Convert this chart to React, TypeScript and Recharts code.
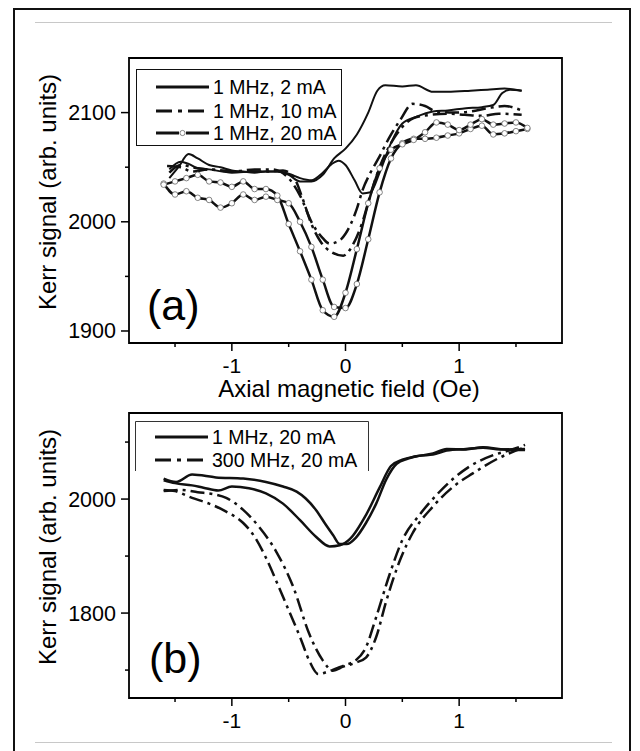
import React from 'react';
import { LineChart, Line, XAxis, YAxis, ReferenceArea, Legend } from 'recharts';

type Pt = [number, number];

// ---- panel (a): Kerr signal vs axial field, 1 MHz drive ----
const a2mAHat: Pt[] = [
  [-1.55, 2040], [-1.47, 2050], [-1.38, 2062], [-1.3, 2058], [-1.2, 2052], [-1.1, 2050],
  [-1.0, 2047], [-0.9, 2046], [-0.8, 2045], [-0.7, 2046], [-0.6, 2046], [-0.5, 2043],
  [-0.4, 2037], [-0.3, 2037], [-0.2, 2043], [-0.1, 2058], [0.0, 2067], [0.1, 2080],
  [0.2, 2100], [0.28, 2120], [0.35, 2125], [0.5, 2124], [0.62, 2125], [0.77, 2119],
  [0.9, 2119], [1.1, 2120], [1.25, 2121], [1.4, 2122], [1.55, 2120],
];
const a2mABump: Pt[] = [
  [-1.55, 2048], [-1.45, 2055], [-1.38, 2053], [-1.3, 2049], [-1.2, 2048], [-1.0, 2045],
  [-0.8, 2046], [-0.6, 2046], [-0.5, 2044], [-0.4, 2040], [-0.3, 2038], [-0.2, 2045],
  [-0.12, 2053], [-0.06, 2056], [0.0, 2052], [0.08, 2038], [0.15, 2026], [0.22, 2027],
  [0.3, 2045], [0.4, 2072], [0.5, 2090], [0.62, 2096], [0.77, 2101], [0.9, 2102],
  [1.06, 2104], [1.2, 2105], [1.3, 2107], [1.38, 2118], [1.45, 2121], [1.55, 2120],
];
const a10mAUpper: Pt[] = [
  [-1.57, 2051], [-1.45, 2050], [-1.35, 2046], [-1.2, 2048], [-1.0, 2046], [-0.8, 2048],
  [-0.65, 2048], [-0.52, 2042], [-0.4, 2024], [-0.29, 1998], [-0.2, 1985], [-0.14, 1980],
  [-0.05, 1983], [0.0, 1989], [0.1, 2012], [0.15, 2029], [0.22, 2045], [0.29, 2058],
  [0.39, 2078], [0.48, 2093], [0.59, 2108], [0.7, 2106], [0.8, 2101], [0.95, 2100],
  [1.1, 2101], [1.25, 2104], [1.4, 2106], [1.55, 2102],
];
const a10mALower: Pt[] = [
  [-1.55, 2045], [-1.45, 2052], [-1.3, 2049], [-1.1, 2047], [-0.9, 2046], [-0.7, 2046],
  [-0.55, 2047], [-0.45, 2040], [-0.38, 2022], [-0.3, 1998], [-0.22, 1982], [-0.12, 1972],
  [-0.02, 1969], [0.07, 1980], [0.15, 2000], [0.22, 2025], [0.3, 2050], [0.4, 2072],
  [0.5, 2087], [0.6, 2095], [0.75, 2098], [0.9, 2099], [1.05, 2098], [1.2, 2097],
  [1.35, 2099], [1.55, 2098],
];
const a20mALow: Pt[] = [
  [-1.6, 2035], [-1.5, 2025], [-1.4, 2028], [-1.3, 2022], [-1.2, 2020], [-1.1, 2013],
  [-1.0, 2017], [-0.9, 2025], [-0.8, 2020], [-0.7, 2023], [-0.6, 2020], [-0.5, 2017],
  [-0.4, 2000], [-0.3, 1977], [-0.2, 1947], [-0.1, 1922], [0.0, 1921], [0.1, 1943],
  [0.2, 1984], [0.3, 2027], [0.4, 2058], [0.5, 2072], [0.6, 2076], [0.7, 2076],
  [0.8, 2077], [0.9, 2079], [1.0, 2081], [1.1, 2085], [1.2, 2088], [1.3, 2080],
  [1.4, 2081], [1.5, 2083], [1.6, 2085],
];
const a20mAHigh: Pt[] = [
  [-1.6, 2034], [-1.5, 2037], [-1.4, 2040], [-1.3, 2043], [-1.2, 2037], [-1.1, 2036],
  [-1.0, 2032], [-0.9, 2037], [-0.8, 2030], [-0.7, 2030], [-0.6, 2024], [-0.5, 1998],
  [-0.4, 1973], [-0.3, 1947], [-0.2, 1919], [-0.1, 1913], [0.0, 1935], [0.1, 1975],
  [0.2, 2017], [0.3, 2049], [0.4, 2066], [0.5, 2071], [0.6, 2075], [0.7, 2082],
  [0.8, 2091], [0.9, 2089], [1.0, 2084], [1.1, 2089], [1.2, 2094], [1.3, 2089],
  [1.4, 2090], [1.5, 2091], [1.6, 2086],
];

// ---- panel (b): 1 MHz vs 300 MHz at 20 mA ----
const b1MHzLow: Pt[] = [
  [-1.6, 2033], [-1.5, 2028], [-1.35, 2024], [-1.25, 2020], [-1.12, 2015], [-1.0, 2022],
  [-0.85, 2019], [-0.7, 2010], [-0.55, 1992], [-0.4, 1963], [-0.26, 1934], [-0.14, 1917],
  [-0.05, 1919], [0.04, 1930], [0.18, 1972], [0.3, 2020], [0.4, 2058], [0.5, 2069],
  [0.62, 2075], [0.77, 2080], [0.89, 2088], [1.06, 2087], [1.21, 2091], [1.4, 2087],
  [1.58, 2086],
];
const b1MHzHigh: Pt[] = [
  [-1.6, 2036], [-1.49, 2030], [-1.35, 2043], [-1.14, 2038], [-0.9, 2036], [-0.7, 2030],
  [-0.55, 2022], [-0.43, 2013], [-0.35, 2001], [-0.26, 1981], [-0.17, 1954], [-0.11, 1937],
  [-0.05, 1921], [0.01, 1921], [0.09, 1932], [0.18, 1958], [0.27, 1992], [0.36, 2035],
  [0.45, 2062], [0.55, 2071], [0.65, 2076], [0.77, 2078], [0.89, 2085], [1.06, 2088],
  [1.21, 2090], [1.36, 2087], [1.58, 2088],
];
const b300MHzLeft: Pt[] = [
  [-1.6, 2016], [-1.5, 2014], [-1.35, 2002], [-1.2, 1992], [-1.05, 1978], [-0.9, 1958],
  [-0.8, 1934], [-0.7, 1897], [-0.6, 1852], [-0.5, 1805], [-0.4, 1758], [-0.32, 1717],
  [-0.24, 1693], [-0.16, 1697], [-0.08, 1703], [0.0, 1709], [0.09, 1717], [0.18, 1740],
  [0.27, 1793], [0.39, 1869], [0.5, 1928], [0.65, 1972], [0.8, 2007], [0.95, 2036],
  [1.09, 2057], [1.3, 2077], [1.45, 2086], [1.58, 2095],
];
const b300MHzRight: Pt[] = [
  [-1.6, 2014], [-1.45, 2016], [-1.3, 2012], [-1.15, 2008], [-1.05, 2002], [-0.9, 1981],
  [-0.76, 1951], [-0.61, 1908], [-0.46, 1846], [-0.32, 1764], [-0.2, 1717], [-0.11, 1699],
  [-0.02, 1706], [0.09, 1713], [0.18, 1722], [0.27, 1758], [0.36, 1822], [0.48, 1893],
  [0.59, 1940], [0.77, 1987], [0.95, 2022], [1.12, 2045], [1.35, 2072], [1.58, 2091],
];

// axes
const fieldDomain: [number, number] = [-1.905, 1.905];
const fieldTicks = [-1.5, -1, -0.5, 0, 0.5, 1, 1.5];
const fieldLabels = [-1, 0, 1];
const kerrDomainA: [number, number] = [1889, 2150];
const kerrTicksA = [1900, 1950, 2000, 2050, 2100];
const kerrLabelsA = [1900, 2000, 2100];
const kerrDomainB: [number, number] = [1651, 2151];
const kerrTicksB = [1700, 1800, 1900, 2000, 2100];
const kerrLabelsB = [1800, 2000];

const legendA = ['1 MHz, 2 mA', '1 MHz, 10 mA', '1 MHz, 20 mA'];
const legendB = ['1 MHz, 20 mA', '300 MHz, 20 mA'];

const FONT = '"Liberation Sans", Arial, Helvetica, sans-serif';
const INK = '#111';
const DASHDOT = '14 5 3 5';
const CIRCLE = { r: 2.8, fill: '#fff', stroke: '#666', strokeWidth: 0.8 };

const rows = (pts: Pt[]) => pts.map(([x, y]) => ({ x, y }));

const XTick = (props: any) => {
  const { x, y, payload } = props;
  const major = fieldLabels.includes(payload.value);
  return (
    <g>
      <line x1={x} x2={x} y1={y} y2={y + (major ? 8 : 4)} stroke="#000" strokeWidth={1.5} />
      {major && (
        <text x={x} y={y + 30} textAnchor="middle" fontSize={21} fontFamily={FONT} fill="#000">
          {payload.value}
        </text>
      )}
    </g>
  );
};

const yTick = (labels: number[]) => (props: any) => {
  const { x, y, payload } = props;
  const major = labels.includes(payload.value);
  return (
    <g>
      <line x1={x - (major ? 8 : 4)} x2={x} y1={y} y2={y} stroke="#000" strokeWidth={1.5} />
      {major && (
        <text x={x - 13} y={y + 7.5} textAnchor="end" fontSize={21.5} fontFamily={FONT} fill="#000">
          {payload.value}
        </text>
      )}
    </g>
  );
};

const kerrTitle = (cy: number) => () => (
  <text
    x={56}
    y={cy}
    transform={`rotate(-90 56 ${cy})`}
    textAnchor="middle"
    fontSize={24}
    fontFamily={FONT}
    fill="#000"
  >
    Kerr signal (arb. units)
  </text>
);

const panelTag = (tag: string, x: number, y: number) => () => (
  <text x={x} y={y} fontSize={43} fontFamily={FONT} fill="#000">
    {tag}
  </text>
);

type Sample = 'solid' | 'dashdot' | 'circle';

function LegendBox({ labels, kinds, width, height, rowY, openBottom }: {
  labels: string[]; kinds: Sample[]; width: number; height: number; rowY: number[]; openBottom?: boolean;
}) {
  return (
    <svg width={width} height={height} style={{ display: 'block', overflow: 'visible' }}>
      {openBottom ? (
        <path d={`M0.5 ${height} V0.5 H${width - 0.5} V${height}`} fill="none" stroke="#333" strokeWidth={1} />
      ) : (
        <rect x={0.5} y={0.5} width={width - 1} height={height - 1} fill="none" stroke="#111" strokeWidth={1} />
      )}
      {labels.map((label, i) => {
        const y = rowY[i];
        const kind = kinds[i];
        return (
          <g key={label}>
            {kind === 'circle' ? (
              <g>
                <line x1={20} x2={43} y1={y} y2={y} stroke={INK} strokeWidth={3} />
                <line x1={50} x2={73} y1={y} y2={y} stroke={INK} strokeWidth={3} />
                <circle cx={46.5} cy={y} r={2.6} fill="#fff" stroke="#666" strokeWidth={0.8} />
              </g>
            ) : (
              <line x1={20} x2={73} y1={y} y2={y} stroke={INK} strokeWidth={3}
                strokeDasharray={kind === 'dashdot' ? '16 6 4 6' : undefined} />
            )}
            <text x={77} y={y + 7} fontSize={19.5} fontFamily={FONT} fill="#000">{label}</text>
          </g>
        );
      })}
    </svg>
  );
}

const noLegendShift = { layout: 'horizontal' as const, verticalAlign: 'middle' as const, align: 'center' as const };

export default function App() {
  return (
    <div style={{ position: 'absolute', left: 0, top: 0, width: 640, height: 751, background: '#fff', overflow: 'hidden', fontFamily: FONT }}>
      <div style={{ position: 'absolute', left: 13, top: 8, width: 618, height: 800, border: '2px solid #111', boxSizing: 'border-box' }} />
      <div style={{ position: 'absolute', left: 35, top: 22, width: 577, height: 1, background: '#c8c8c8' }} />
      <div style={{ position: 'absolute', left: 35, top: 742, width: 577, height: 1, background: '#c8c8c8' }} />

      <div style={{ position: 'absolute', left: 0, top: 0 }}>
        <LineChart width={640} height={405} margin={{ top: 58, right: 78, bottom: 12, left: 29 }}>
          <XAxis
            type="number"
            dataKey="x"
            domain={fieldDomain}
            ticks={fieldTicks}
            interval={0}
            allowDataOverflow
            axisLine={false}
            tickLine={false}
            tickSize={0}
            tickMargin={0}
            height={50}
            tick={XTick}
            label={() => (
              <text x={349} y={397} textAnchor="middle" fontSize={24} fontFamily={FONT} fill="#000">
                Axial magnetic field (Oe)
              </text>
            )}
          />
          <YAxis
            type="number"
            domain={kerrDomainA}
            ticks={kerrTicksA}
            interval={0}
            allowDataOverflow
            axisLine={false}
            tickLine={false}
            tickSize={0}
            tickMargin={0}
            width={100}
            tick={yTick(kerrLabelsA)}
            label={kerrTitle(192)}
          />
          <ReferenceArea
            x1={fieldDomain[0]} x2={fieldDomain[1]} y1={kerrDomainA[0]} y2={kerrDomainA[1]}
            fill="none" stroke="#000" strokeWidth={1.8} fillOpacity={0} ifOverflow="visible"
            label={panelTag('(a)', 147, 320)}
          />
          <Line data={rows(a2mAHat)} dataKey="y" type="monotone" stroke={INK} strokeWidth={2} dot={false} isAnimationActive={false} />
          <Line data={rows(a2mABump)} dataKey="y" type="monotone" stroke={INK} strokeWidth={2} dot={false} isAnimationActive={false} />
          <Line data={rows(a10mAUpper)} dataKey="y" type="monotone" stroke={INK} strokeWidth={2.5} strokeDasharray={DASHDOT} dot={false} isAnimationActive={false} />
          <Line data={rows(a10mALower)} dataKey="y" type="monotone" stroke={INK} strokeWidth={2.5} strokeDasharray={DASHDOT} dot={false} isAnimationActive={false} />
          <Line data={rows(a20mALow)} dataKey="y" type="monotone" stroke={INK} strokeWidth={2.5} dot={CIRCLE} isAnimationActive={false} />
          <Line data={rows(a20mAHigh)} dataKey="y" type="monotone" stroke={INK} strokeWidth={2.5} dot={CIRCLE} isAnimationActive={false} />
          <Legend
            {...noLegendShift}
            wrapperStyle={{ left: 136, top: 69, width: 206, height: 77 }}
            content={() => (
              <LegendBox labels={legendA} kinds={['solid', 'dashdot', 'circle']} width={206} height={77} rowY={[18, 42, 64]} />
            )}
          />
        </LineChart>
      </div>

      <div style={{ position: 'absolute', left: 0, top: 405 }}>
        <LineChart width={640} height={346} margin={{ top: 8, right: 78, bottom: 13, left: 29 }}>
          <XAxis
            type="number"
            dataKey="x"
            domain={fieldDomain}
            ticks={fieldTicks}
            interval={0}
            allowDataOverflow
            axisLine={false}
            tickLine={false}
            tickSize={0}
            tickMargin={0}
            height={40}
            tick={XTick}
          />
          <YAxis
            type="number"
            domain={kerrDomainB}
            ticks={kerrTicksB}
            interval={0}
            allowDataOverflow
            axisLine={false}
            tickLine={false}
            tickSize={0}
            tickMargin={0}
            width={100}
            tick={yTick(kerrLabelsB)}
            label={kerrTitle(142)}
          />
          <ReferenceArea
            x1={fieldDomain[0]} x2={fieldDomain[1]} y1={kerrDomainB[0]} y2={kerrDomainB[1]}
            fill="none" stroke="#000" strokeWidth={1.8} fillOpacity={0} ifOverflow="visible"
            label={panelTag('(b)', 149, 268)}
          />
          <Line data={rows(b1MHzLow)} dataKey="y" type="monotone" stroke={INK} strokeWidth={2.5} dot={false} isAnimationActive={false} />
          <Line data={rows(b1MHzHigh)} dataKey="y" type="monotone" stroke={INK} strokeWidth={2.5} dot={false} isAnimationActive={false} />
          <Line data={rows(b300MHzLeft)} dataKey="y" type="monotone" stroke={INK} strokeWidth={2.5} strokeDasharray={DASHDOT} dot={false} isAnimationActive={false} />
          <Line data={rows(b300MHzRight)} dataKey="y" type="monotone" stroke={INK} strokeWidth={2.5} strokeDasharray={DASHDOT} dot={false} isAnimationActive={false} />
          <Legend
            {...noLegendShift}
            wrapperStyle={{ left: 135, top: 16, width: 234, height: 50 }}
            content={() => (
              <LegendBox labels={legendB} kinds={['solid', 'dashdot']} width={234} height={50} rowY={[16, 39]} openBottom />
            )}
          />
        </LineChart>
      </div>
    </div>
  );
}
